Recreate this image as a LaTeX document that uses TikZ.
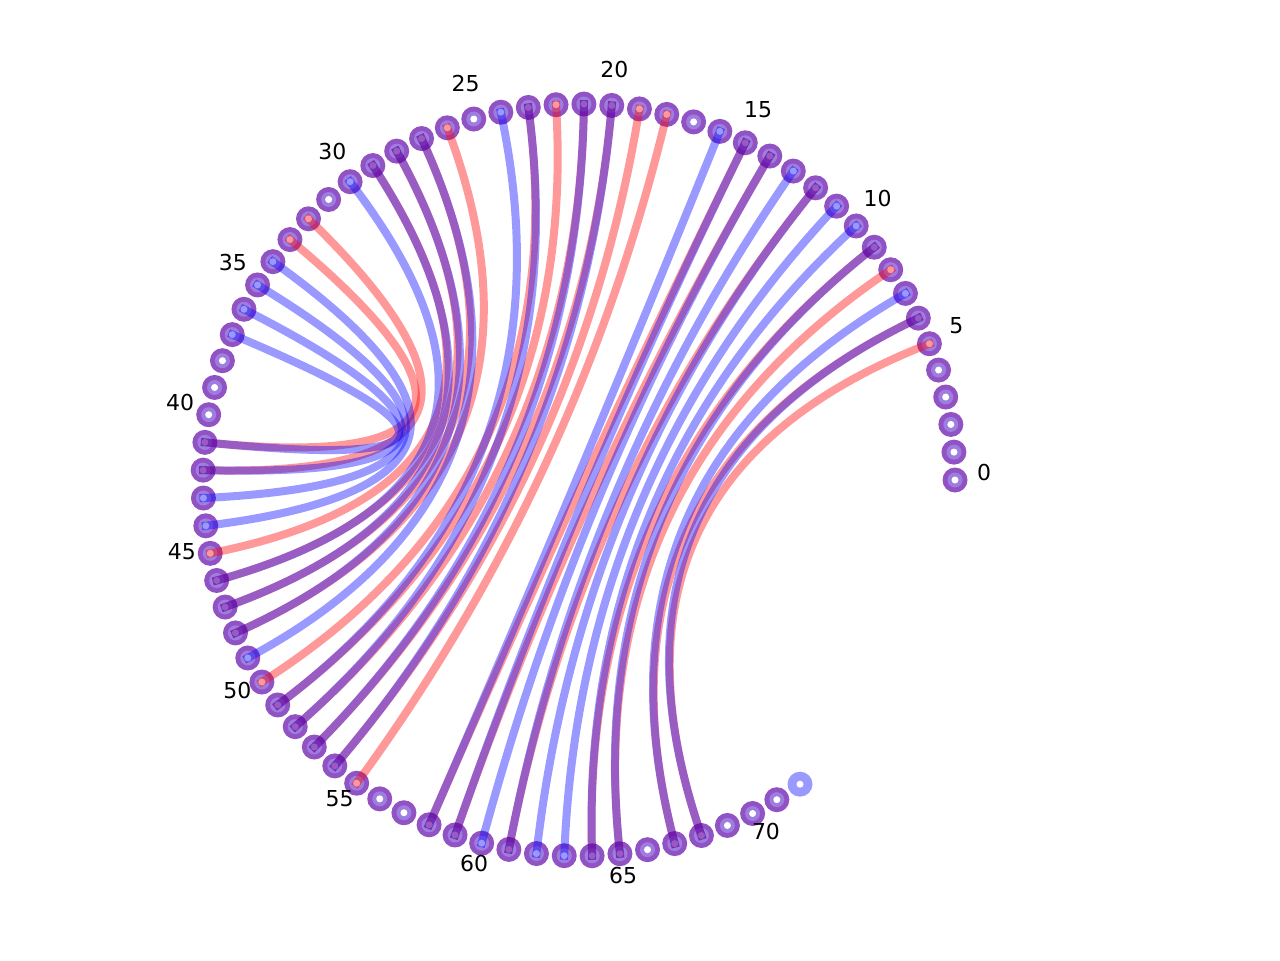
\documentclass[tikz,border=0pt]{standalone}
\usepackage{fontspec}
\setmainfont{DejaVu Sans}
\usetikzlibrary{calc}
\definecolor{ringdark}{RGB}{145,82,196}
\definecolor{ringlight}{RGB}{158,125,224}
% quadratic curve through the centre, written as a cubic
\newcommand{\chord}[3]{\draw[#1] (n#2) .. controls ($(n#2)!2/3!(ctr)$) and ($(n#3)!2/3!(ctr)$) .. (n#3);}
\begin{document}
\begin{tikzpicture}[x=0.02cm, y=0.02cm,
  redlink/.style={draw=red, opacity=0.4, line width=0.16cm, line cap=rect},
  bluelink/.style={draw=blue, opacity=0.4, line width=0.16cm, line cap=rect},
  numlabel/.style={font=\fontsize{12.5pt}{15pt}\selectfont, inner sep=0pt}]
\useasboundingbox (-579,-480) rectangle (701,480);
\coordinate (ctr) at (0,0);
% positions on the circle
\foreach \i in {0,...,72}
  \coordinate (n\i) at (\i*4.25:376);
% rings of both structures
\foreach \i in {0,...,71} {
  \fill[ringdark] (n\i) circle (12.5);
  \fill[ringlight] (n\i) circle (7.5);
  \fill[white] (n\i) circle (3.5);
}
\fill[blue!40] (n72) circle (12.5);
\fill[white] (n72) circle (3.5);
% numbers
\foreach \i in {0,5,...,70}
  \node[numlabel] (l\i) at ($(\i*4.25:405)+(0,7.5)$) {\i};
% red pairs
\foreach \a/\b in {5/68,6/67,8/65,9/64,12/61,14/59,15/58,18/55,19/54,20/53,21/52,22/51,23/50,26/48,27/47,28/46,29/45,32/42,33/41}
  {\chord{redlink}{\a}{\b}}
% blue pairs
\foreach \a/\b in {6/68,7/67,9/65,10/64,11/63,12/62,13/61,14/60,15/59,16/58,20/54,21/53,23/52,24/51,27/49,28/48,29/47,30/46,34/44,35/43,36/42,37/41}
  {\chord{bluelink}{\a}{\b}}
\end{tikzpicture}
\end{document}
